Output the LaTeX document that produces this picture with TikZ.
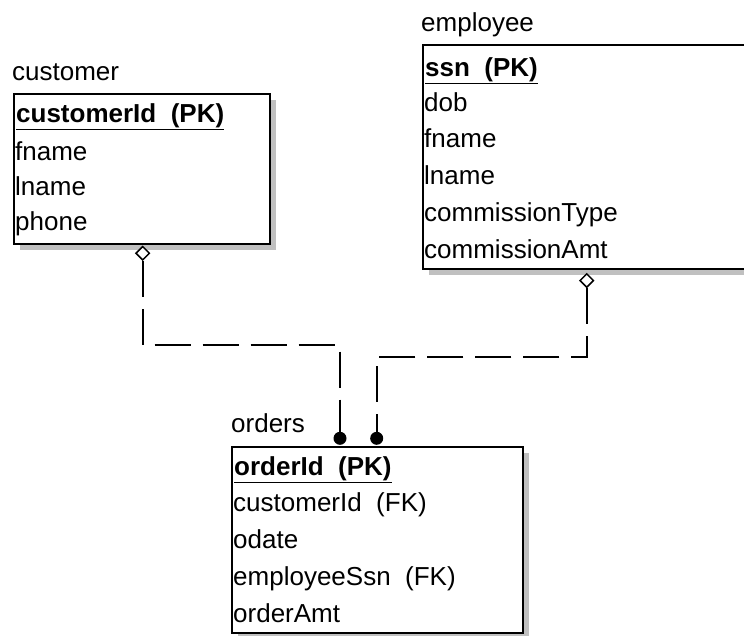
\documentclass[tikz,border=0pt]{standalone}
\usepackage{fontspec}
\setmainfont{Liberation Sans}
\usetikzlibrary{calc,shapes.geometric,shadows}
\definecolor{shadowgray}{RGB}{192,192,192}
\begin{document}
\begin{tikzpicture}[x=1pt,y=-1pt,
  font=\fontsize{26}{30}\selectfont,
  tbl/.style={draw=black,line width=1.8pt,fill=white,anchor=north west,inner sep=0pt,
    drop shadow={shadow xshift=6pt,shadow yshift=-6pt,fill=shadowgray,opacity=1}},
  txt/.style={anchor=base west,inner sep=0pt},
  hdr/.style={txt,font=\fontsize{26}{30}\selectfont\bfseries},
  fk/.style={draw=black,line width=2pt,dash pattern=on 36pt off 12pt},
  dia/.style={diamond,draw=black,line width=1.5pt,fill=white,inner sep=0pt,minimum width=14pt,minimum height=14pt,anchor=north},
  dot/.style={circle,fill=black,inner sep=0pt,minimum size=13pt,anchor=south}
]
\useasboundingbox (0,0) rectangle (744,635);
\clip (0,0) rectangle (744,635);

% customer
\node[txt] (clabel) at (12,80) {customer};
\node[tbl,minimum width=256pt,minimum height=150pt] (customer) at (12.7,92.7) {};
\node[hdr] (c0) at (16,122) {\underline{customerId\ \ (PK)}};
\node[txt] (c1) at (15,160) {fname};
\node[txt] (c2) at (15,195) {lname};
\node[txt] (c3) at (15,230) {phone};

% employee
\node[txt] (elabel) at (421,31) {employee};
\node[tbl,minimum width=338pt,minimum height=224pt] (employee) at (421.7,44) {};
\node[hdr] (e0) at (425,76) {\underline{ssn\ \ (PK)}};
\node[txt] (e1) at (424,111.7) {dob};
\node[txt] (e2) at (424,147.7) {fname};
\node[txt] (e3) at (424,184) {lname};
\node[txt] (e4) at (424,221.7) {commissionType};
\node[txt] (e5) at (424,258) {commissionAmt};

% orders
\node[txt] (olabel) at (231,432) {orders};
\node[tbl,minimum width=291pt,minimum height=186pt] (orders) at (230.7,446) {};
\node[hdr] (o0) at (234,475) {\underline{orderId\ \ (PK)}};
\node[txt] (o1) at (233,511) {customerId\ \ (FK)};
\node[txt] (o2) at (233,548) {odate};
\node[txt] (o3) at (233,585) {employeeSsn\ \ (FK)};
\node[txt] (o4) at (233,622.7) {orderAmt};

% connectors
\node[dia] (cdia) at ($(customer.south west)+(130,1)$) {};
\node[dia] (edia) at ($(employee.south west)+(165,3)$) {};
\node[dot] (odot1) at ($(orders.north west)+(109.3,-1)$) {};
\node[dot] (odot2) at ($(orders.north west)+(146,-1)$) {};
\coordinate (b1) at (0,345);
\coordinate (b2) at (0,357);
\draw[fk] (cdia.south) -- (cdia.south |- b1) -| (odot1.north);
\draw[fk] (edia.south) -- (edia.south |- b2) -| (odot2.north);
\end{tikzpicture}
\end{document}
